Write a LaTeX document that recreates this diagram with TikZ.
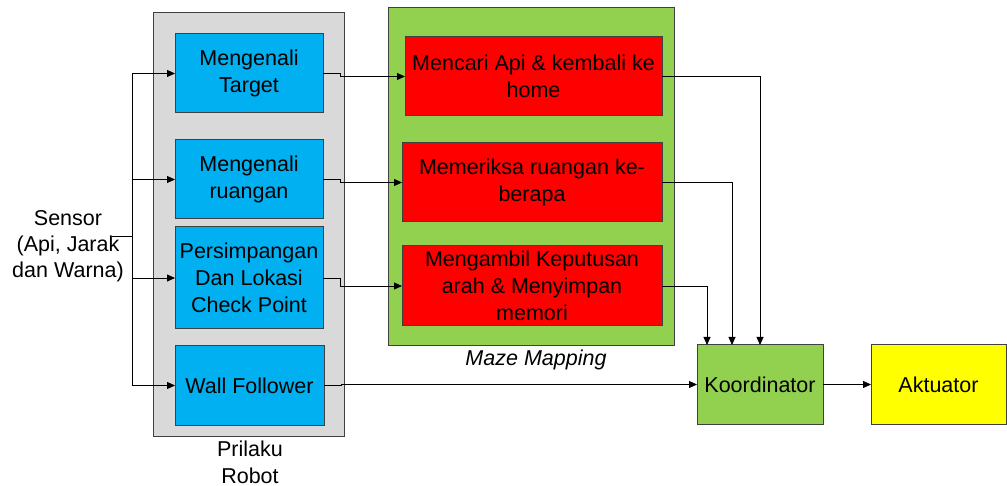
\documentclass[tikz,border=0pt]{standalone}
\usepackage{fontspec}
\setmainfont{Liberation Sans}
\usetikzlibrary{arrows.meta}
\definecolor{cblue}{HTML}{00B0F0}
\definecolor{cred}{HTML}{FF0000}
\definecolor{cgreen}{HTML}{92D050}
\definecolor{cyel}{HTML}{FFFF00}
\definecolor{cgray}{HTML}{D9D9D9}
\definecolor{cline}{HTML}{404040}
\begin{document}
\begin{tikzpicture}[x=1pt,y=-1pt,
  txt/.style={font=\fontsize{21.5}{27}\selectfont, align=center, inner sep=0pt, outer sep=0pt},
  box/.style={txt, draw=cline, line width=1pt, rectangle},
  bluebox/.style={box, fill=cblue, minimum width=148pt, minimum height=79pt},
  redbox/.style={box, fill=cred, minimum width=260pt, minimum height=79pt},
  conn/.style={draw=black, line width=0.8pt},
  arr/.style={conn, -{Triangle[length=8pt,width=7pt]}}]
\useasboundingbox (0,0) rectangle (1007,486);
% containers
\node[box, fill=cgray, minimum width=191pt, minimum height=423pt] (gray) at (248.5,224.5) {};
\node[box, fill=cgreen, minimum width=286pt, minimum height=338pt] (green) at (531,177) {};
% blue boxes
\node[bluebox] (t1) at (249,73.5) {Mengenali\\Target};
\node[bluebox] (t2) at (249,179.5) {Mengenali\\ruangan};
\node[bluebox, minimum height=102pt] (t3) at (249,278) {Persimpangan\\Dan Lokasi\\Check Point};
\node[bluebox, minimum width=149pt] (t4) at (249.5,385.5) {Wall Follower};
% red boxes
\node[redbox, minimum width=257pt] (r1) at (533.5,76.5) {Mencari Api \& kembali ke\\home};
\node[redbox] (r2) at (532,182.5) {Memeriksa ruangan ke-\\berapa};
\node[redbox, minimum height=80pt] (r3) at (532,286) {Mengambil Keputusan\\arah \& Menyimpan\\memori};
% right boxes
\node[box, fill=cgreen, minimum width=126pt, minimum height=79pt] (k) at (760,384.5) {Koordinator};
\node[box, fill=cyel, minimum width=135pt, minimum height=79pt] (a) at (938.5,384.5) {Aktuator};
% labels
\node[txt, font=\fontsize{21.5}{26}\selectfont] (sensor) at (68,246) {Sensor\\(Api, Jarak\\dan Warna)};
\node[txt] (prl) at (250,462) {Prilaku\\Robot};
\node[txt, font=\fontsize{21.5}{27}\selectfont\itshape] (mm) at (536,360) {Maze Mapping};
% sensor branching
\coordinate (s) at (112,236);
\coordinate (br) at (132,236);
\draw[conn] (s) -- (br);
\draw[conn] (br |- t1.west) -- (br |- t4.west);
\draw[arr] (br |- t1.west) -- (t1.west);
\draw[arr] (br |- t2.west) -- (t2.west);
\draw[arr] (br |- t3.west) -- (t3.west);
\draw[arr] (br |- t4.west) -- (t4.west);
% blue to red
\draw[arr] (t1.east) -- ++(17,0) |- (r1.west);
\draw[arr] (t2.east) -- ++(17,0) |- (r2.west);
\draw[arr] (t3.east) -- ++(17,0) |- (r3.west);
\draw[arr] (t4.east) -- ++(17,0) |- (k.west);
% red to koordinator
\draw[arr] (r1.east) -| (k.north);
\draw[arr] (r2.east) -| ([xshift=-28pt]k.north);
\draw[arr] (r3.east) -| ([xshift=-53pt]k.north);
\draw[arr] (k.east) -- (a.west);
\end{tikzpicture}
\end{document}
